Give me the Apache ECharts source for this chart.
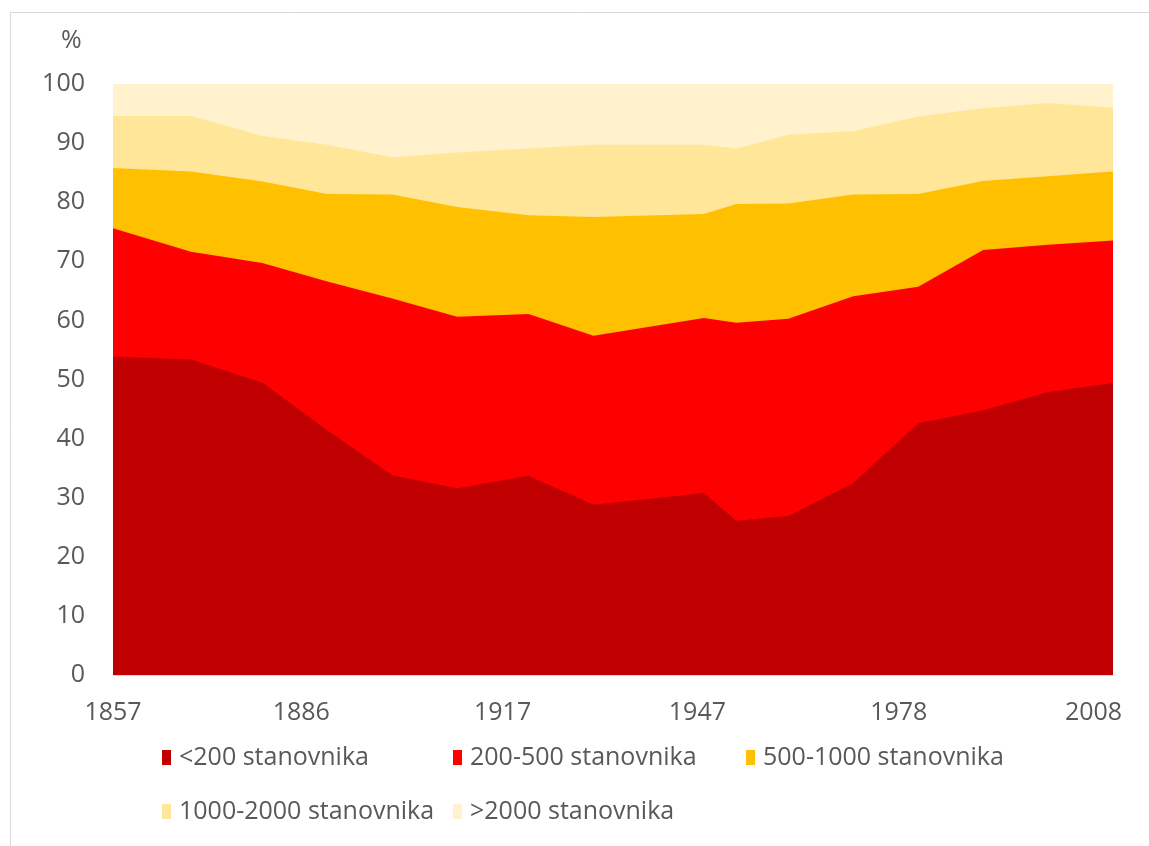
<!DOCTYPE html>
<html>
<head>
<meta charset="utf-8">
<script src="https://cdn.jsdelivr.net/npm/echarts@6/dist/echarts.min.js"></script>
<style>
html,body{margin:0;padding:0;background:#fff;}
#chart{width:1149px;height:846px;}
</style>
</head>
<body>
<div id="chart"></div>
<script>
var years = [1857, 1869, 1880, 1890, 1900, 1910, 1921, 1931, 1948, 1953, 1961, 1971, 1981, 1991, 2001, 2011];
var tickYears = [1857, 1886, 1917, 1947, 1978, 2008];
var seriesNames = ['<200 stanovnika', '200-500 stanovnika', '500-1000 stanovnika', '1000-2000 stanovnika', '>2000 stanovnika'];
var under200   = [53.9, 53.4, 49.5, 41.4, 33.8, 31.6, 33.7, 28.8, 30.8, 26.1, 26.9, 32.5, 42.6, 44.8, 47.9, 49.4];
var s200to500  = [21.7, 18.2, 20.2, 25.2, 29.9, 29.0, 27.4, 28.6, 29.6, 33.5, 33.4, 31.6, 23.1, 27.1, 24.9, 24.1];
var s500to1000 = [10.2, 13.6, 13.8, 14.8, 17.6, 18.6, 16.7, 20.1, 17.6, 20.1, 19.5, 17.2, 15.7, 11.7, 11.6, 11.7];
var s1000to2000= [8.8, 9.4, 7.7, 8.3, 6.3, 9.2, 11.3, 12.2, 11.7, 9.4, 11.6, 10.7, 13.1, 12.3, 12.4, 10.8];
var over2000   = [5.4, 5.4, 8.8, 10.3, 12.4, 11.6, 10.9, 10.3, 10.3, 10.9, 8.6, 8.0, 5.5, 4.1, 3.2, 4.0];
var colors = ['#C00000', '#FF0000', '#FFC000', '#FFE699', '#FFF2CC'];

var allData = [under200, s200to500, s500to1000, s1000to2000, over2000];
var FONT = '"Open Sans", "Liberation Sans", sans-serif';
var TXT = '#595959';
var FS = 25;

// cumulative stacking (value x-axis), drawn top layer first so lower layers overlay
var cum = years.map(function () { return 0; });
var stacked = allData.map(function (vals) {
  cum = cum.map(function (c, k) { return c + vals[k]; });
  return cum.slice();
});

var series = [];
for (var i = allData.length - 1; i >= 0; i--) {
  (function (i) {
    series.push({
      name: seriesNames[i],
      type: 'line',
      symbol: 'none',
      smooth: false,
      lineStyle: {width: 0},
      areaStyle: {color: colors[i], opacity: 1, origin: 'start'},
      itemStyle: {color: colors[i]},
      data: years.map(function (y, k) { return [y, stacked[i][k]]; })
    });
  })(i);
}

var legendPos = [
  {left: 157, top: 740},
  {left: 448, top: 740},
  {left: 741, top: 740},
  {left: 157, top: 794},
  {left: 448, top: 794}
];
var legends = seriesNames.map(function (n, i) {
  return {
    data: [n],
    left: legendPos[i].left,
    top: legendPos[i].top,
    itemWidth: 9,
    itemHeight: 15,
    itemGap: 0,
    icon: 'rect',
    selectedMode: false,
    textStyle: {fontFamily: FONT, fontSize: FS, color: TXT, padding: [0, 0, 0, 3]}
  };
});

var chart = echarts.init(document.getElementById('chart'), null, {renderer: 'canvas'});
chart.setOption({
  animation: false,
  backgroundColor: '#fff',
  color: colors,
  graphic: [{
    type: 'rect',
    shape: {x: 10.5, y: 12.5, width: 1200, height: 900},
    style: {fill: 'none', stroke: '#d9d9d9', lineWidth: 1},
    silent: true
  }, {
    type: 'text',
    left: 61, top: 28,
    style: {text: '%', fontFamily: FONT, fontSize: FS, fill: TXT}
  }],
  legend: legends,
  grid: {left: 113, right: 36, top: 84, bottom: 171, containLabel: false},
  xAxis: {
    type: 'value',
    min: 1857,
    max: 2011,
    splitLine: {show: false},
    axisLine: {show: true, lineStyle: {color: '#d9d9d9', width: 1}},
    axisTick: {show: true, inside: true, length: 7, customValues: tickYears, lineStyle: {color: '#d9d9d9'}},
    axisLabel: {
      customValues: tickYears,
      formatter: function (v) { return String(v); },
      fontFamily: FONT, fontSize: FS, color: TXT, margin: 25,
      showMinLabel: true, showMaxLabel: true
    }
  },
  yAxis: {
    type: 'value',
    min: 0, max: 100, interval: 10,
    axisLine: {show: false},
    axisTick: {show: false},
    splitLine: {show: true, lineStyle: {color: '#d9d9d9', width: 1}},
    axisLabel: {fontFamily: FONT, fontSize: FS, color: TXT, margin: 28}
  },
  series: series
});
</script>
</body>
</html>
